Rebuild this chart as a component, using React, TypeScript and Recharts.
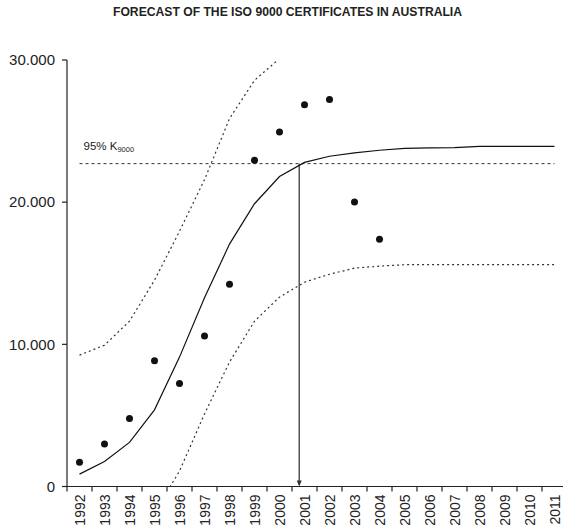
import React from 'react';
import {
  ComposedChart,
  Line,
  XAxis,
  YAxis,
  ReferenceLine,
} from 'recharts';

const years = [
  1992, 1993, 1994, 1995, 1996, 1997, 1998, 1999, 2000, 2001,
  2002, 2003, 2004, 2005, 2006, 2007, 2008, 2009, 2010, 2011,
];

// observed certificates (dots)
const observed = [
  1700, 2990, 4790, 8840, 7250, 10580, 14230, 22940, 24930, 26860,
  27230, 20020, 17390, null, null, null, null, null, null, null,
];

// fitted logistic curve
const forecast = [
  870, 1760, 3100, 5390, 9100, 13270, 17050, 19890, 21800, 22800,
  23230, 23470, 23650, 23790, 23820, 23840, 23930, 23930, 23930, 23930,
];

// confidence bounds (dotted)
const upper = [
  9240, 9940, 11630, 14510, 17950, 21580, 25880, 28570, 30100, null,
  null, null, null, null, null, null, null, null, null, null,
];
const lower = [
  null, null, null, -1850, 1090, 5100, 8750, 11630, 13320, 14370,
  14930, 15360, 15500, 15600, 15600, 15600, 15600, 15600, 15600, 15600,
];

const yTicks = [0, 10000, 20000, 30000];
const K95 = 22710;
const K95_YEAR = 2000.79;

const CHART_W = 580;
const CHART_H = 530;
const MARGIN = { top: 60, right: 13, bottom: 0, left: 0 };
const Y_AXIS_W = 67;
const X_AXIS_H = 43.5;
const HALF_BAND = (CHART_W - MARGIN.right - Y_AXIS_W) / years.length / 2;

const FONT = '"Liberation Sans", Arial, sans-serif';
const INK = '#222';

const data = years.map((year, i) => ({
  year,
  observed: observed[i],
  forecast: forecast[i],
  upper: upper[i],
  lower: lower[i],
}));

// boundary ticks at half years, labels shifted to band centre
const xTicks = [...years.map((y) => y - 0.5), years[years.length - 1] + 0.5];

const fmt = (v: number) => (v === 0 ? '0' : v.toLocaleString('de-DE'));

const YearTick = (props: any) => {
  const { x, y, payload } = props;
  const year = payload.value + 0.5;
  if (year > years[years.length - 1]) return null;
  const cx = x + HALF_BAND;
  return (
    <text
      x={cx}
      y={y}
      transform={`rotate(-90 ${cx} ${y})`}
      textAnchor="end"
      dy="0.36em"
      fontSize={14}
      fontFamily={FONT}
      fill={INK}
    >
      {year}
    </text>
  );
};

const KLabel = (props: any) => {
  const { viewBox } = props;
  return (
    <text x={viewBox.x + 4} y={viewBox.y - 14} fontSize={11.5} fontFamily={FONT} fill={INK}>
      95% K
      <tspan dy={2.5} fontSize={7.5}>9000</tspan>
    </text>
  );
};

const Arrow = (props: any) => {
  const { x1, y1, x2, y2 } = props;
  return (
    <g>
      <line x1={x1} y1={y1} x2={x2} y2={y2 - 5} stroke="#555" strokeWidth={1.5} />
      <path d={`M${x2 - 2.5},${y2 - 6} L${x2 + 2.5},${y2 - 6} L${x2},${y2} Z`} fill="#333" />
    </g>
  );
};

export default function App() {
  return (
    <div style={{ position: 'absolute', left: 0, top: 0, width: 563, height: 530, overflow: 'hidden', background: '#fff' }}>
      <svg width={563} height={30} style={{ position: 'absolute', left: 0, top: 0 }}>
        <text
          x={113}
          y={15.7}
          textLength={349}
          lengthAdjust="spacingAndGlyphs"
          fontSize={12.5}
          fontWeight="bold"
          fontFamily={FONT}
          fill={INK}
        >
          FORECAST OF THE ISO 9000 CERTIFICATES IN AUSTRALIA
        </text>
      </svg>
      <ComposedChart width={CHART_W} height={CHART_H} data={data} margin={MARGIN}>
        <XAxis
          dataKey="year"
          type="number"
          domain={[years[0] - 0.5, years[years.length - 1] + 0.5]}
          ticks={xTicks}
          interval={0}
          height={X_AXIS_H}
          tickSize={5}
          tickMargin={3}
          tick={<YearTick />}
          axisLine={{ stroke: INK, strokeWidth: 1.2 }}
          tickLine={{ stroke: INK, strokeWidth: 1.2 }}
        />
        <YAxis
          type="number"
          domain={[0, 30000]}
          allowDataOverflow
          ticks={yTicks}
          width={Y_AXIS_W}
          tickSize={5}
          tickMargin={7}
          tickFormatter={fmt}
          tick={{ fontSize: 15, fontFamily: FONT, fill: INK }}
          axisLine={{ stroke: INK, strokeWidth: 1.2 }}
          tickLine={{ stroke: INK, strokeWidth: 1.2 }}
        />
        <ReferenceLine
          segment={[{ x: years[0], y: K95 }, { x: years[years.length - 1], y: K95 }]}
          stroke="#333"
          strokeWidth={1}
          strokeDasharray="3 3"
          label={<KLabel />}
        />
        <ReferenceLine
          segment={[{ x: K95_YEAR, y: K95 }, { x: K95_YEAR, y: 0 }]}
          shape={<Arrow />}
        />
        <Line
          dataKey="upper"
          type="linear"
          stroke="#333"
          strokeWidth={1.2}
          strokeDasharray="2 3"
          dot={false}
          isAnimationActive={false}
        />
        <Line
          dataKey="lower"
          type="linear"
          stroke="#333"
          strokeWidth={1.2}
          strokeDasharray="2 3"
          dot={false}
          isAnimationActive={false}
        />
        <Line
          dataKey="forecast"
          type="linear"
          stroke="#111"
          strokeWidth={1.2}
          dot={false}
          isAnimationActive={false}
        />
        <Line
          dataKey="observed"
          stroke="none"
          dot={{ r: 3.5, fill: '#111', stroke: 'none' }}
          activeDot={false}
          isAnimationActive={false}
        />
      </ComposedChart>
    </div>
  );
}
